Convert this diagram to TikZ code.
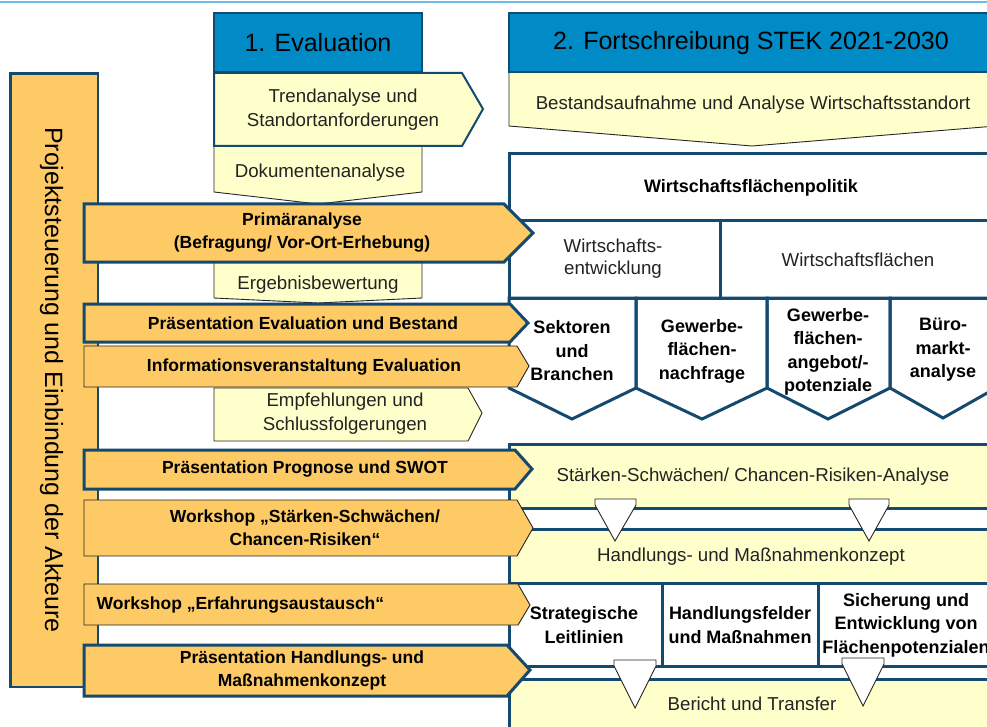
\documentclass[tikz,border=0pt]{standalone}
\usepackage{fontspec}
\setmainfont{Liberation Sans}
\definecolor{dblue}{RGB}{20,74,112}
\definecolor{hblue}{RGB}{0,138,198}
\definecolor{orng}{RGB}{253,202,102}
\definecolor{ylw}{RGB}{255,255,204}
\definecolor{lblue}{RGB}{110,188,226}
\definecolor{txt}{RGB}{35,35,35}
\tikzset{
  thickbox/.style={draw=dblue, line width=3pt, line join=miter},
  midbox/.style={draw=dblue, line width=2pt, line join=miter},
  thinbox/.style={draw=black!85, line width=0.9pt, line join=miter},
  reg/.style={font=\fontsize{18.7}{24}\selectfont, text=txt, align=center, inner sep=0pt},
  bld/.style={font=\fontsize{17.5}{23}\selectfont\bfseries, align=center, inner sep=0pt},
  bldb/.style={font=\fontsize{18}{23.5}\selectfont\bfseries, align=center, inner sep=0pt},
  hdr/.style={font=\fontsize{25}{30}\selectfont, inner sep=0pt},
}
\begin{document}
\begin{tikzpicture}[x=1pt,y=-1pt]
\useasboundingbox (0,0) rectangle (987,727);
\clip (0,0) rectangle (987,727);
% top line
\draw[lblue, line width=2pt] (0,2) -- (987,2);

% left bar
\filldraw[fill=orng, draw=dblue, line width=2.5pt] (10.5,73.5) rectangle (98,687);
\node[font=\fontsize{25}{30}\selectfont, rotate=-90, anchor=base, inner sep=0pt] (lbar) at (45,380) {Projektsteuerung und Einbindung der Akteure};

% right column: top part
\filldraw[fill=ylw, thinbox] (509,72) -- (996,72) -- (996,126) -- (752,146) -- (509,126) -- cycle;
\node[reg] (bestand) at (753,105) {Bestandsaufnahme und Analyse Wirtschaftsstandort};
\filldraw[fill=hblue, draw=dblue, line width=2.5pt] (509,13) rectangle (1000,72);
\node[hdr] (h2) at (751,43) {2. Fortschreibung STEK 2021-2030};

\filldraw[fill=white, thickbox] (509,154) rectangle (1000,221);
\node[bldb] (wfp) at (751,188) {Wirtschaftsflächenpolitik};
\draw[thickbox] (509,221) rectangle (720,298);
\draw[thickbox] (720,221) rectangle (1000,298);
\node[reg, font=\fontsize{18.7}{22}\selectfont] (we) at (613,259) {Wirtschafts-\\entwicklung};
\node[reg] (wf) at (858,260) {Wirtschaftsflächen};

\draw[thickbox] (509,298) -- (636,298) -- (636,388) -- (572,419) -- (509,388) -- cycle;
\draw[thickbox] (636,298) -- (767,298) -- (767,388) -- (702,419) -- (636,388) -- cycle;
\draw[thickbox] (767,298) -- (890,298) -- (890,388) -- (828,419) -- (767,388) -- cycle;
\draw[thickbox] (890,298) -- (996,298) -- (996,388) -- (943,418) -- (890,388) -- cycle;
\node[bldb] (sek) at (572,351) {Sektoren\\und\\Branchen};
\node[bldb] (gfn) at (702,351) {Gewerbe-\\flächen-\\nachfrage};
\node[bldb] (gfa) at (828,352) {Gewerbe-\\flächen-\\angebot/-\\potenziale};
\node[bldb] (bma) at (943,350) {Büro-\\markt-\\analyse};

% right column: lower part
\filldraw[fill=ylw, thickbox] (509,444) rectangle (1000,508);
\filldraw[fill=white, thickbox] (509,508) rectangle (1000,529);
\filldraw[fill=ylw, thickbox] (509,529) rectangle (1000,583);
\filldraw[fill=white, thickbox] (509,583) rectangle (662,666);
\filldraw[fill=white, thickbox] (662,583) rectangle (818,666);
\filldraw[fill=white, thickbox] (818,583) rectangle (1000,666);
\filldraw[fill=white, thickbox] (509,666) rectangle (1000,679);
\filldraw[fill=ylw, thickbox] (509,679) rectangle (1000,740);
\node[reg] (swot) at (753,477) {Stärken-Schwächen/ Chancen-Risiken-Analyse};
\node[reg] (hmk) at (751,557) {Handlungs- und Maßnahmenkonzept};
\node[bldb, font=\fontsize{18}{24}\selectfont\bfseries] (sl) at (584,625) {Strategische\\Leitlinien};
\node[bldb, font=\fontsize{18}{24}\selectfont\bfseries] (hfm) at (740,625) {Handlungsfelder\\und Maßnahmen};
\node[bldb] (sef) at (906,625) {Sicherung und\\Entwicklung von\\Flächenpotenzialen};
\node[reg] (bt) at (752,704) {Bericht und Transfer};

% triangles
\filldraw[fill=white, thinbox] (595,499) -- (636,499) -- (636,505) -- (615,541) -- (595,505) -- cycle;
\filldraw[fill=white, thinbox] (849,499) -- (889,499) -- (889,505) -- (869,541) -- (849,505) -- cycle;
\filldraw[fill=white, thinbox] (614,660) -- (656,660) -- (656,666) -- (635,708) -- (614,666) -- cycle;
\filldraw[fill=white, thinbox] (842,658) -- (884,658) -- (884,664) -- (863,706) -- (842,664) -- cycle;

% middle column
\filldraw[fill=ylw, thinbox] (214,140) -- (422,140) -- (422,192) -- (318,204) -- (214,192) -- cycle;
\node[reg] (doc) at (320,173) {Dokumentenanalyse};
\filldraw[fill=ylw, midbox] (214,73) -- (462,73) -- (483,109) -- (462,146) -- (214,146) -- cycle;
\node[reg] (trend) at (343,110) {Trendanalyse und\\Standortanforderungen};
\filldraw[fill=hblue, draw=dblue, line width=2.5pt] (214,13) rectangle (422,72);
\node[hdr] (h1) at (318,43) {1. Evaluation};

\filldraw[fill=ylw, thinbox] (214,255) -- (422,255) -- (422,298) -- (318,303) -- (214,298) -- cycle;
\node[reg] (erg) at (318,285) {Ergebnisbewertung};
\filldraw[fill=ylw, thinbox] (214,388) -- (468,388) -- (482,413) -- (468,441) -- (214,441) -- cycle;
\node[reg] (empf) at (345,414) {Empfehlungen und\\Schlussfolgerungen};

% orange arrows
\filldraw[fill=orng, thickbox] (84,204) -- (504,204) -- (533,233) -- (504,262) -- (84,262) -- cycle;
\node[bld] (prim) at (302,233) {Primäranalyse\\(Befragung/ Vor-Ort-Erhebung)};
\filldraw[fill=orng, thickbox] (84,304) -- (510,304) -- (528,323) -- (510,342) -- (84,342) -- cycle;
\node[bld] (pev) at (303,323) {Präsentation Evaluation und Bestand};
\filldraw[fill=orng, thinbox] (84,346) -- (517,346) -- (529,366) -- (517,387) -- (84,387) -- cycle;
\node[bld] (info) at (304,367) {Informationsveranstaltung Evaluation};
\filldraw[fill=orng, thickbox] (84,450) -- (515,450) -- (532,469) -- (515,489) -- (84,489) -- cycle;
\node[bld] (ppr) at (305,469) {Präsentation Prognose und SWOT};
\filldraw[fill=orng, thinbox] (84,500) -- (517,500) -- (533,528) -- (517,556) -- (84,556) -- cycle;
\node[bld] (wss) at (305,528) {Workshop „Stärken-Schwächen/\\Chancen-Risiken“};
\filldraw[fill=orng, thinbox] (84,584) -- (518,584) -- (530,605) -- (518,625) -- (84,625) -- cycle;
\node[bld, anchor=west] (wea) at (96.5,605) {Workshop „Erfahrungsaustausch“};
\filldraw[fill=orng, thickbox] (84,645) -- (507,645) -- (530,670) -- (507,696) -- (84,696) -- cycle;
\node[bld] (phm) at (302,670) {Präsentation Handlungs- und\\Maßnahmenkonzept};
\end{tikzpicture}
\end{document}
